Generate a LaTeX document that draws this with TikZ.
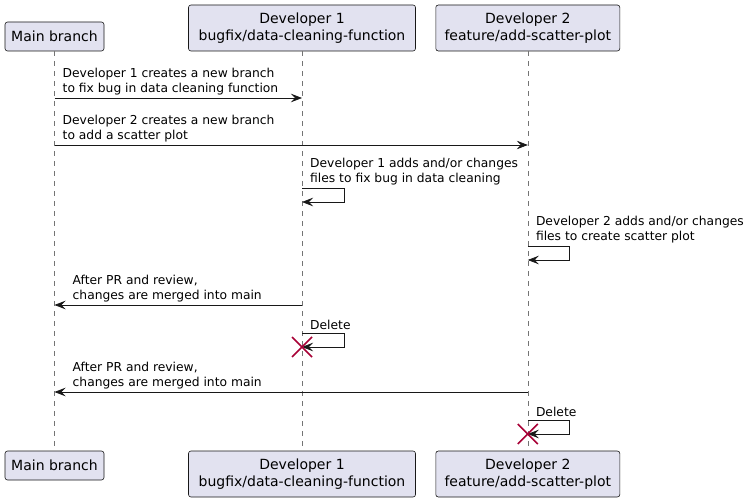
\documentclass[tikz,border=0pt]{standalone}
\usepackage{fontspec}
\setmainfont{DejaVu Sans}
\usetikzlibrary{arrows.meta}
\definecolor{pbox}{HTML}{E2E2F0}
\definecolor{pline}{HTML}{181818}
\definecolor{xred}{HTML}{A80036}
\tikzset{
  part/.style={draw=pline, fill=pbox, line width=0.6pt, rounded corners=2.5pt, inner sep=0pt, align=center, font=\fontsize{14}{16.5}\selectfont},
  life/.style={draw=pline!60, dash pattern=on 5pt off 5pt, line width=0.5pt},
  msg/.style={draw=pline, line width=0.7pt, -{Stealth[length=11pt,width=8.5pt,inset=4pt]}},
  lbl/.style={inner sep=0pt, align=left, anchor=south west, font=\fontsize{12.3}{14.5}\selectfont},
  kill/.style={draw=xred, line width=1.6pt},
}
\begin{document}
\begin{tikzpicture}[x=1pt,y=-1pt]
\useasboundingbox[fill=white] (0,0) rectangle (752,502);
% participants
\node[part, minimum width=99pt, minimum height=29pt] (mainT) at (54.5,36.5) {Main branch};
\node[part, minimum width=227pt, minimum height=46pt] (d1T) at (302,28) {Developer 1\\bugfix/data-cleaning-function};
\node[part, minimum width=184pt, minimum height=46pt] (d2T) at (527.8,28) {Developer 2\\feature/add-scatter-plot};
\node[part, minimum width=99pt, minimum height=29pt] (mainB) at (54.5,465.5) {Main branch};
\node[part, minimum width=227pt, minimum height=46pt] (d1B) at (302,474) {Developer 1\\bugfix/data-cleaning-function};
\node[part, minimum width=184pt, minimum height=46pt] (d2B) at (527.8,474) {Developer 2\\feature/add-scatter-plot};
% lifelines
\draw[life] (mainT.south) -- (mainB.north);
\draw[life] (d1T.south) -- (d1B.north);
\draw[life] (d2T.south) -- (d2B.north);
% message 1
\coordinate (a1) at (mainT.south |- 0,98);
\coordinate (b1) at (d1T.south |- 0,98);
\draw[msg] (a1) -- (b1);
\node[lbl] (t1) at ([xshift=8pt,yshift=3pt]a1) {Developer 1 creates a new branch\\to fix bug in data cleaning function};
% message 2
\coordinate (a2) at (mainT.south |- 0,145);
\coordinate (b2) at (d2T.south |- 0,145);
\draw[msg] (a2) -- (b2);
\node[lbl] (t2) at ([xshift=8pt,yshift=3pt]a2) {Developer 2 creates a new branch\\to add a scatter plot};
% message 3 self
\coordinate (a3) at (d1T.south |- 0,188);
\coordinate (b3) at (d1T.south |- 0,202);
\draw[msg] (a3) -- ++(42,0) |- (b3);
\node[lbl] (t3) at ([xshift=8pt,yshift=3pt]a3) {Developer 1 adds and/or changes\\files to fix bug in data cleaning};
% message 4 self
\coordinate (a4) at (d2T.south |- 0,246);
\coordinate (b4) at (d2T.south |- 0,260);
\draw[msg] (a4) -- ++(42,0) |- (b4);
\node[lbl] (t4) at ([xshift=8pt,yshift=3pt]a4) {Developer 2 adds and/or changes\\files to create scatter plot};
% message 5
\coordinate (a5) at (d1T.south |- 0,305);
\coordinate (b5) at (mainT.south |- 0,305);
\draw[msg] (a5) -- (b5);
\node[lbl] (t5) at ([xshift=18pt,yshift=3pt]b5) {After PR and review,\\changes are merged into main};
% message 6 delete
\coordinate (a6) at (d1T.south |- 0,333);
\coordinate (b6) at (d1T.south |- 0,347);
\draw[msg] (a6) -- ++(42,0) |- (b6);
\node[lbl] (t6) at ([xshift=8pt,yshift=3pt]a6) {Delete};
\draw[kill] ([shift={(-10,-10)}]b6) -- ([shift={(10,10)}]b6);
\draw[kill] ([shift={(-10,10)}]b6) -- ([shift={(10,-10)}]b6);
% message 7
\coordinate (a7) at (d2T.south |- 0,392);
\coordinate (b7) at (mainT.south |- 0,392);
\draw[msg] (a7) -- (b7);
\node[lbl] (t7) at ([xshift=18pt,yshift=3pt]b7) {After PR and review,\\changes are merged into main};
% message 8 delete
\coordinate (a8) at (d2T.south |- 0,420);
\coordinate (b8) at (d2T.south |- 0,434);
\draw[msg] (a8) -- ++(42,0) |- (b8);
\node[lbl] (t8) at ([xshift=8pt,yshift=3pt]a8) {Delete};
\draw[kill] ([shift={(-10,-10)}]b8) -- ([shift={(10,10)}]b8);
\draw[kill] ([shift={(-10,10)}]b8) -- ([shift={(10,-10)}]b8);
\end{tikzpicture}
\end{document}
